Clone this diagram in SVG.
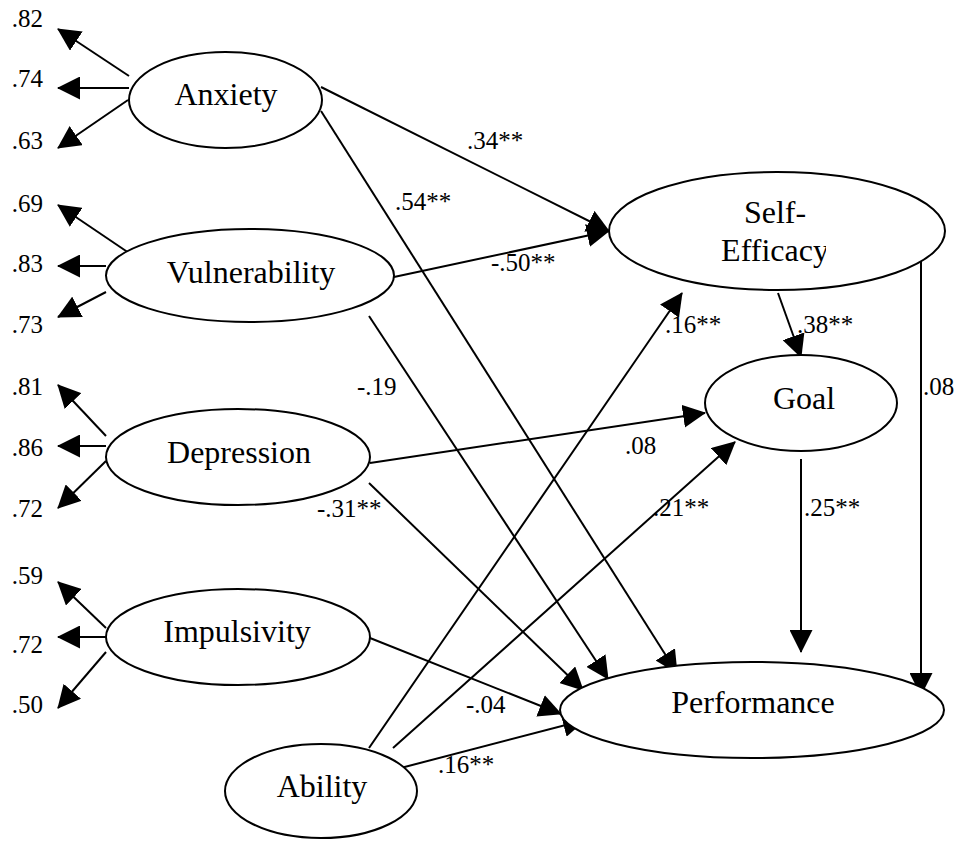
<svg xmlns="http://www.w3.org/2000/svg" width="957" height="842" viewBox="0 0 957 842">
  <style>
    .node ellipse { fill: #ffffff; stroke: #000000; stroke-width: 2; }
    .node text { font-family: 'Liberation Serif', 'Times New Roman', Times, 'DejaVu Serif', serif; font-size: 32px; fill: #000000; text-anchor: middle; }
    .edges line { stroke: #000000; stroke-width: 2; marker-end: url(#arrow); }
    .lbl { font-family: 'Liberation Serif', 'Times New Roman', Times, 'DejaVu Serif', serif; font-size: 25px; fill: #000000; }
    .ld { text-anchor: end; }
  </style>
  <defs>
    <marker id="arrow" markerUnits="userSpaceOnUse" markerWidth="23" markerHeight="23" viewBox="0 0 23 23" refX="22" refY="11.5" orient="auto">
      <path d="M0,0 L23,11.5 L0,23 Z" fill="#000000"/>
    </marker>
    <clipPath id="clipEff">
      <rect x="600" y="235" width="226" height="40"/>
    </clipPath>
  </defs>

  <rect width="957" height="842" fill="#ffffff"/>

  <!-- connectors -->
  <g id="connectors" class="edges">
    <!-- indicator loadings -->
    <line x1="129" y1="76" x2="58" y2="29"/>
    <line x1="129" y1="88" x2="58" y2="88"/>
    <line x1="128" y1="100" x2="58" y2="148"/>
    <line x1="129" y1="253" x2="58" y2="205"/>
    <line x1="106" y1="266" x2="58" y2="266"/>
    <line x1="106" y1="292" x2="58" y2="317"/>
    <line x1="106" y1="436" x2="58" y2="385"/>
    <line x1="106" y1="446" x2="58" y2="446"/>
    <line x1="106" y1="461" x2="58" y2="508"/>
    <line x1="106" y1="628" x2="58" y2="582"/>
    <line x1="106" y1="637" x2="58" y2="637"/>
    <line x1="106" y1="652" x2="58" y2="708"/>
    <!-- structural paths -->
    <line x1="321" y1="87" x2="609" y2="231"/>
    <line x1="394" y1="277" x2="609" y2="231"/>
    <line x1="321" y1="111" x2="677" y2="673"/>
    <line x1="369" y1="316" x2="608" y2="679"/>
    <line x1="369" y1="483" x2="583" y2="690"/>
    <line x1="370" y1="463" x2="705" y2="413"/>
    <line x1="370" y1="638" x2="561" y2="714"/>
    <line x1="369" y1="748" x2="682" y2="293"/>
    <line x1="393" y1="748" x2="735" y2="442"/>
    <line x1="393" y1="770" x2="585" y2="720"/>
    <line x1="778" y1="293" x2="801" y2="357"/>
    <line x1="801" y1="459" x2="801" y2="652"/>
    <line x1="921" y1="258" x2="921" y2="695"/>
  </g>

  <!-- path coefficients -->
  <g id="coefficients">
    <text class="lbl" x="467" y="149">.34**</text>
    <text class="lbl" x="395" y="210">.54**</text>
    <text class="lbl" x="491" y="271">-.50**</text>
    <text class="lbl" x="357" y="395">-.19</text>
    <text class="lbl" x="625" y="454">.08</text>
    <text class="lbl" x="317" y="517">-.31**</text>
    <text class="lbl" x="665" y="333">.16**</text>
    <text class="lbl" x="797" y="333">.38**</text>
    <text class="lbl" x="653" y="516">.21**</text>
    <text class="lbl" x="804" y="516">.25**</text>
    <text class="lbl" x="923" y="395">.08</text>
    <text class="lbl" x="466" y="713">-.04</text>
    <text class="lbl" x="438" y="773">.16**</text>
  </g>

  <!-- indicator loading values -->
  <g id="loadings">
    <text class="lbl ld" x="43" y="27">.82</text>
    <text class="lbl ld" x="43" y="87">.74</text>
    <text class="lbl ld" x="43" y="149">.63</text>
    <text class="lbl ld" x="43" y="212">.69</text>
    <text class="lbl ld" x="43" y="272">.83</text>
    <text class="lbl ld" x="43" y="333">.73</text>
    <text class="lbl ld" x="43" y="395">.81</text>
    <text class="lbl ld" x="43" y="456">.86</text>
    <text class="lbl ld" x="43" y="517">.72</text>
    <text class="lbl ld" x="43" y="584">.59</text>
    <text class="lbl ld" x="43" y="653">.72</text>
    <text class="lbl ld" x="43" y="713">.50</text>
  </g>

  <!-- latent variables -->
  <g id="anxiety" class="node">
    <ellipse cx="225.5" cy="100" rx="96.5" ry="48"/>
    <text x="226" y="105">Anxiety</text>
  </g>
  <g id="vulnerability" class="node">
    <ellipse cx="250" cy="275.5" rx="144" ry="46.5"/>
    <text x="251" y="283">Vulnerability</text>
  </g>
  <g id="depression" class="node">
    <ellipse cx="238" cy="457" rx="132" ry="48"/>
    <text x="239" y="463">Depression</text>
  </g>
  <g id="impulsivity" class="node">
    <ellipse cx="238" cy="637" rx="132" ry="48"/>
    <text x="237" y="642">Impulsivity</text>
  </g>
  <g id="ability" class="node">
    <ellipse cx="321" cy="791" rx="96" ry="47"/>
    <text x="322" y="797">Ability</text>
  </g>
  <g id="self-efficacy" class="node">
    <ellipse cx="777" cy="231" rx="168" ry="59"/>
    <text x="775" y="223">Self-</text>
    <text x="775" y="261" clip-path="url(#clipEff)">Efficacy</text>
  </g>
  <g id="goal" class="node">
    <ellipse cx="801" cy="403" rx="96" ry="48"/>
    <text x="804" y="409">Goal</text>
  </g>
  <g id="performance" class="node">
    <ellipse cx="752" cy="710" rx="192" ry="48"/>
    <text x="753" y="713">Performance</text>
  </g>
</svg>
